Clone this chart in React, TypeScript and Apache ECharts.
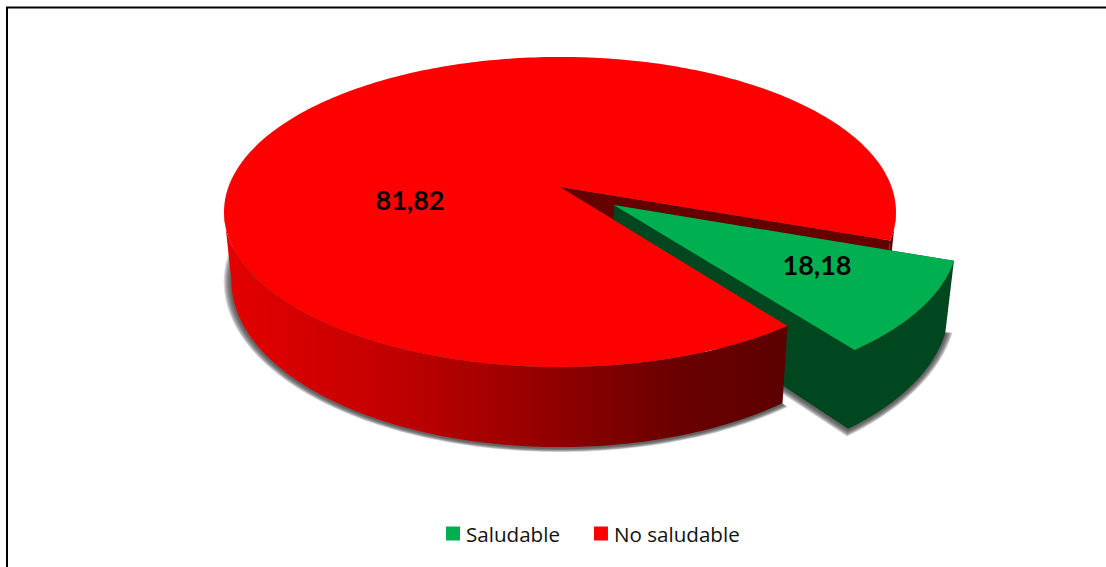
import React, { useEffect, useRef } from "react";
import * as echarts from "echarts";

const categories = ["Saludable", "No saludable"];
const values = [18.18, 81.82];
const sliceColors = ["#00B050", "#FF0000"];

// Angle of the gap's far edge, measured clockwise on the disc from its right-hand side.
const WEDGE_START = 19.6;
// Degrees of disc per percentage point for the pulled-out slice, as this view foreshortens it.
const DEGREES_PER_POINT = 1.854;
const EXPLODE = 0.198;
const PERSPECTIVE = 0.161;

const faces = {
  top: { cx: 560, cy: 187, rx: 331.6, ry: 151 },
  bottom: { cx: 560, cy: 254, rx: 324.3, ry: 162 },
};

type Pt = [number, number];
const rad = (d: number) => (d * Math.PI) / 180;

// Projects a point of the unit disc onto the top or bottom face of the pie.
function project(u: number, v: number, face: keyof typeof faces): Pt {
  const f = faces[face];
  const w = 1 - PERSPECTIVE * v;
  return [f.cx + (f.rx * u) / w, f.cy + (f.ry * v) / w];
}

function arc(from: number, to: number, face: keyof typeof faces, du = 0, dv = 0): Pt[] {
  const n = Math.max(2, Math.ceil(Math.abs(to - from)));
  const pts: Pt[] = [];
  for (let i = 0; i <= n; i++) {
    const t = rad(from + ((to - from) * i) / n);
    pts.push(project(Math.cos(t) + du, Math.sin(t) + dv, face));
  }
  return pts;
}

const poly = (points: Pt[], style: object, z2: number) => ({
  type: "polygon",
  shape: { points },
  style,
  z2,
});

// Soft ground shadow: translucent copies of the base, each grown a little further out.
function softShadow(base: Pt[], ox: number, oy: number, radius: number) {
  const layers = [];
  for (let i = 7; i >= 1; i--) {
    const s = 1 + (i * 1.1) / radius;
    const points = base.map(([x, y]) => [ox + (x - ox) * s, oy + (y - oy) * s + 1] as Pt);
    layers.push(poly(points, { fill: "rgba(60,60,60,0.2)" }, 1));
  }
  return layers;
}

function renderWedge(_: unknown, api: any) {
  const value = api.value(0);
  const end = WEDGE_START + value * DEGREES_PER_POINT;
  const mid = rad((WEDGE_START + end) / 2);
  const du = EXPLODE * Math.cos(mid);
  const dv = EXPLODE * Math.sin(mid);
  const topApex = project(du, dv, "top");
  const botApex = project(du, dv, "bottom");
  const topArc = arc(WEDGE_START, end, "top", du, dv);
  const botArc = arc(WEDGE_START, end, "bottom", du, dv);
  return {
    type: "group",
    children: [
      ...softShadow([botApex, ...botArc], 860, 350, 90),
      // Outer curve and inner cut share one outline so no seam shows at the front corner.
      poly([...botArc, botApex, topApex, topArc[0]], { fill: "#00471F" }, 4),
      poly([topApex, ...topArc], { fill: sliceColors[0] }, 5),
      {
        type: "text",
        z2: 9,
        style: {
          text: value.toFixed(2).replace(".", ","),
          x: 817,
          y: 264,
          font: "bold 27px Lato, sans-serif",
          fill: "#000",
          align: "center",
          verticalAlign: "middle",
        },
      },
    ],
  };
}

function renderMain(_: unknown, api: any) {
  const value = api.value(0);
  const sweep = 360 - (100 - value) * DEGREES_PER_POINT;
  const start = WEDGE_START + (360 - sweep);
  const end = WEDGE_START + 360;
  const topApex = project(0, 0, "top");
  const botApex = project(0, 0, "bottom");
  const topArc = arc(start, end, "top");
  const botArc = arc(start, end, "bottom");

  // The visible curved wall runs from the front cut round to the left silhouette.
  const edge = (Math.asin(PERSPECTIVE) * 180) / Math.PI;
  const wallTop = arc(start, 180 - edge, "top");
  const wallBot = arc(start, 180 - edge, "bottom");
  const sliverTop = arc(edge, WEDGE_START, "top");
  const sliverBot = arc(edge, WEDGE_START, "bottom");
  const cutTop = project(Math.cos(rad(WEDGE_START)), Math.sin(rad(WEDGE_START)), "top");
  const cutBot = project(Math.cos(rad(WEDGE_START)), Math.sin(rad(WEDGE_START)), "bottom");
  const wallGradient = new echarts.graphic.LinearGradient(
    224, 0, wallTop[0][0], 0,
    [
      { offset: 0, color: "#E40000" },
      { offset: 0.25, color: "#C80000" },
      { offset: 0.5, color: "#A00000" },
      { offset: 0.8, color: "#6A0000" },
      { offset: 1, color: "#5C0000" },
    ],
    true,
  );
  return {
    type: "group",
    children: [
      ...softShadow([botApex, ...botArc], 560, 281, 330),
      poly([...sliverTop, ...[...sliverBot].reverse()], { fill: "#640000" }, 2),
      poly([topApex, cutTop, cutBot, botApex], { fill: "#640000" }, 3),
      poly([...wallTop, ...[...wallBot].reverse()], { fill: wallGradient }, 6),
      poly([topApex, ...topArc], { fill: sliceColors[1] }, 7),
      {
        type: "text",
        z2: 9,
        style: {
          text: value.toFixed(2).replace(".", ","),
          x: 410,
          y: 199,
          font: "bold 27px Lato, sans-serif",
          fill: "#000",
          align: "center",
          verticalAlign: "middle",
        },
      },
    ],
  };
}

export default function App() {
  const ref = useRef<HTMLDivElement>(null);
  useEffect(() => {
    document.body.style.margin = "0";
    const chart = echarts.init(ref.current!, undefined, { renderer: "svg" });
    chart.setOption({
      animation: false,
      backgroundColor: "#fff",
      legend: {
        data: categories,
        left: 441,
        top: 518,
        icon: "rect",
        itemWidth: 14,
        itemHeight: 14,
        itemGap: 34,
        selectedMode: false,
        textStyle: { fontFamily: "'Open Sans', sans-serif", fontSize: 20.6, color: "#111", padding: [0, 0, 0, 1] },
      },
      graphic: [
        { type: "line", shape: { x1: 6, y1: 7.5, x2: 1106, y2: 7.5 }, style: { stroke: "#000", lineWidth: 2 } },
        { type: "line", shape: { x1: 7, y1: 7, x2: 7, y2: 567 }, style: { stroke: "#000", lineWidth: 2 } },
      ],
      series: categories.map((name, i) => ({
        type: "custom",
        name,
        coordinateSystem: "none",
        silent: true,
        itemStyle: { color: sliceColors[i] },
        data: [[values[i]]],
        renderItem: i === 0 ? renderWedge : renderMain,
      })),
    });
    return () => chart.dispose();
  }, []);
  return <div ref={ref} style={{ position: "absolute", left: 0, top: 0, width: 1106, height: 567 }} />;
}
